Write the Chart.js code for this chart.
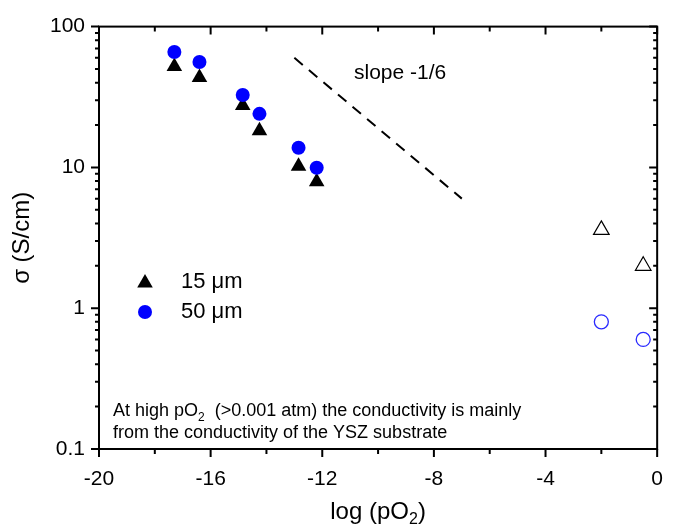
<!DOCTYPE html>
<html>
<head>
<meta charset="utf-8">
<script src="https://cdn.jsdelivr.net/npm/chart.js@4.4.1/dist/chart.umd.min.js"></script>
<style>
  html, body { margin: 0; padding: 0; background: #fff; }
</style>
</head>
<body>
<canvas id="sigmaChart" width="681" height="531"></canvas>
<script>
// log(pO2) and conductivity (S/cm)
const xLow = [-17.3, -16.4, -14.85, -14.25, -12.85, -12.2];
const sigma15 = [52, 43.5, 27.5, 18.2, 10.2, 7.9];
const sigma50 = [66, 56, 32.7, 24, 13.8, 9.95];
const xHigh = [-2.0, -0.5];
const sigma15High = [3.6, 2.0];
const sigma50High = [0.8, 0.6];
const slopeX = [-13, -7];
const slopeY = [60, 6];
const xTicks = [-20, -16, -12, -8, -4, 0];
const yTicks = [0.1, 1, 10, 100];
const seriesLabels = ['15 \u03bcm', '50 \u03bcm'];

const FONT = '"Liberation Sans", Arial, sans-serif';

function pts(xs, ys) {
    return xs.map((v, i) => ({x: v, y: ys[i]}));
}

// frame + ticks on all four sides, texts and legend
const decorations = {
    id: 'decorations',
    beforeDatasetsDraw(chart) {
        const {ctx, chartArea: a, scales} = chart;
        const x = scales.x, y = scales.y;
        ctx.save();
        ctx.strokeStyle = '#000';
        ctx.lineWidth = 2;
        ctx.strokeRect(a.left, a.top, a.right - a.left, a.bottom - a.top);
        ctx.beginPath();
        for (let v = -20; v <= 0; v += 2) {
            const px = x.getPixelForValue(v);
            const len = v % 4 === 0 ? 8 : 5;
            ctx.moveTo(px, a.bottom); ctx.lineTo(px, a.bottom + len);
            ctx.moveTo(px, a.top); ctx.lineTo(px, a.top + len);
        }
        for (let e = -1; e <= 2; e++) {
            for (let m = 1; m <= 9; m++) {
                if (e === 2 && m > 1) break;
                const py = y.getPixelForValue(m * Math.pow(10, e));
                const len = m === 1 ? 8 : 4;
                ctx.moveTo(a.left - len, py); ctx.lineTo(a.left, py);
                ctx.moveTo(a.right - len, py); ctx.lineTo(a.right, py);
            }
        }
        ctx.stroke();
        ctx.restore();
    },
    afterDraw(chart) {
        const {ctx, chartArea: a} = chart;
        ctx.save();
        ctx.fillStyle = '#000';
        ctx.textBaseline = 'middle';

        // slope label
        ctx.font = '21px ' + FONT;
        ctx.textAlign = 'left';
        ctx.fillText('slope -1/6', 354, 73);

        // legend
        ctx.beginPath();
        const tx = 145, ty = 283, r = 9;
        ctx.moveTo(tx, ty - r);
        ctx.lineTo(tx + r * Math.sin(2 * Math.PI / 3), ty + r / 2);
        ctx.lineTo(tx - r * Math.sin(2 * Math.PI / 3), ty + r / 2);
        ctx.closePath();
        ctx.fill();
        ctx.fillStyle = '#0000ff';
        ctx.beginPath();
        ctx.arc(145, 312, 7, 0, 2 * Math.PI);
        ctx.fill();
        ctx.fillStyle = '#000';
        ctx.font = '22px ' + FONT;
        ctx.fillText(seriesLabels[0], 181, 282);
        ctx.fillText(seriesLabels[1], 181, 312);

        // note about the substrate
        ctx.font = '18px ' + FONT;
        let cx = 113;
        ctx.fillText('At high pO', cx, 411);
        cx += ctx.measureText('At high pO').width;
        ctx.font = '12px ' + FONT;
        ctx.fillText('2', cx, 418);
        cx += ctx.measureText('2').width;
        ctx.font = '18px ' + FONT;
        ctx.fillText('  (>0.001 atm) the conductivity is mainly', cx, 411);
        ctx.fillText('from the conductivity of the YSZ substrate', 113, 433);

        // x title
        const t1 = 'log (pO', t3 = ')';
        ctx.font = '24px ' + FONT;
        const w1 = ctx.measureText(t1).width, w3 = ctx.measureText(t3).width;
        ctx.font = '16px ' + FONT;
        const w2 = ctx.measureText('2').width;
        let sx = (a.left + a.right) / 2 - (w1 + w2 + w3) / 2;
        ctx.font = '24px ' + FONT;
        ctx.fillText(t1, sx, 512);
        ctx.font = '16px ' + FONT;
        ctx.fillText('2', sx + w1, 520);
        ctx.font = '24px ' + FONT;
        ctx.fillText(t3, sx + w1 + w2, 512);

        // y title
        ctx.translate(22, (a.top + a.bottom) / 2);
        ctx.rotate(-Math.PI / 2);
        ctx.textAlign = 'center';
        ctx.font = '24px ' + FONT;
        ctx.fillText('\u03c3 (S/cm)', 0, 0);
        ctx.restore();
    }
};

document.addEventListener('DOMContentLoaded', function() {
    const ctx = document.getElementById('sigmaChart').getContext('2d');
    const data = {
        datasets: [
            {
                label: 'slope',
                data: pts(slopeX, slopeY),
                showLine: true,
                borderColor: '#000',
                borderWidth: 2,
                borderDash: [11, 8],
                pointRadius: 0,
                order: 2,
            },
            {
                label: seriesLabels[1],
                data: pts(xLow, sigma50),
                pointStyle: 'circle',
                pointRadius: 7,
                pointBorderWidth: 0,
                backgroundColor: '#0000ff',
                borderColor: '#0000ff',
                order: 0,
            },
            {
                label: seriesLabels[0],
                data: pts(xLow, sigma15),
                pointStyle: 'triangle',
                pointRadius: 9,
                pointBorderWidth: 0,
                backgroundColor: '#000',
                borderColor: '#000',
                order: 1,
            },
            {
                label: seriesLabels[0] + ' high',
                data: pts(xHigh, sigma15High),
                pointStyle: 'triangle',
                pointRadius: 9,
                pointBorderWidth: 1.2,
                backgroundColor: 'rgba(255,255,255,0)',
                borderColor: '#000',
                order: 1,
            },
            {
                label: seriesLabels[1] + ' high',
                data: pts(xHigh, sigma50High),
                pointStyle: 'circle',
                pointRadius: 7,
                pointBorderWidth: 1.3,
                backgroundColor: 'rgba(255,255,255,0)',
                borderColor: '#2a2aff',
                order: 0,
            }
        ]
    };
    const config = {
        type: 'scatter',
        data: data,
        options: {
            responsive: false,
            animation: false,
            layout: {
                padding: {left: 0, right: 7, top: 25, bottom: 0}
            },
            scales: {
                x: {
                    type: 'linear',
                    min: -20,
                    max: 0,
                    afterBuildTicks: (s) => { s.ticks = xTicks.map(v => ({value: v})); },
                    afterFit: (s) => { s.height = 82; },
                    grid: {display: false, drawTicks: false},
                    border: {display: false},
                    ticks: {
                        color: '#000',
                        padding: 18,
                        font: {family: FONT, size: 21},
                    }
                },
                y: {
                    type: 'logarithmic',
                    min: 0.1,
                    max: 100,
                    afterBuildTicks: (s) => { s.ticks = yTicks.map(v => ({value: v})); },
                    afterFit: (s) => { s.width = 99; },
                    grid: {display: false, drawTicks: false},
                    border: {display: false},
                    ticks: {
                        color: '#000',
                        padding: 14,
                        font: {family: FONT, size: 21},
                        callback: (v) => String(v),
                    }
                }
            },
            plugins: {
                legend: {display: false},
                tooltip: {enabled: false}
            }
        },
        plugins: [decorations]
    };
    new Chart(ctx, config);
});
</script>
</body>
</html>
